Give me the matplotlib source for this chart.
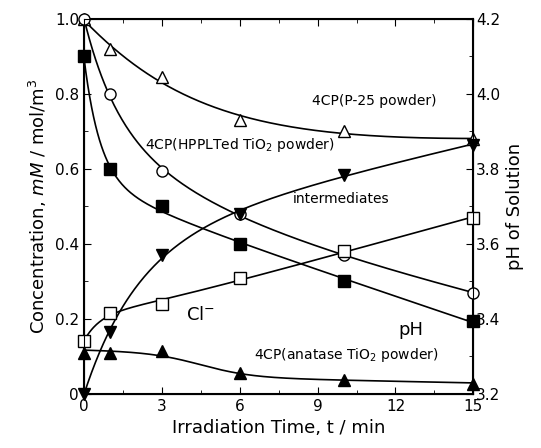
"""Photodegradation of 4CP: concentration and pH vs irradiation time."""

import numpy as np
import matplotlib
matplotlib.use("Agg")
import matplotlib.pyplot as plt
from matplotlib.ticker import MultipleLocator

time_min = [0, 1, 3, 6, 10, 15]
p25 = [1.0, 0.92, 0.845, 0.73, 0.70, 0.68]
hppl = [1.0, 0.80, 0.595, 0.48, 0.37, 0.27]
ph_conc = [0.90, 0.60, 0.50, 0.40, 0.30, 0.195]
intermediates = [0.0, 0.165, 0.37, 0.48, 0.585, 0.665]
chloride = [0.14, 0.215, 0.24, 0.31, 0.38, 0.47]
anatase = [0.11, 0.11, 0.115, 0.055, 0.037, 0.027]


def exp_basis(t, taus):
    t = np.asarray(t, float)
    cols = [np.ones_like(t), t] + [np.exp(-t / tau) for tau in taus]
    return np.column_stack(cols)


def guide(x, y, xs, taus=(1.2, 4.5)):
    # least squares guide curve, constant + linear + exponentials
    coef, *_ = np.linalg.lstsq(exp_basis(x, taus), np.asarray(y, float),
                               rcond=None)
    return exp_basis(xs, taus) @ coef


def guide_fast(x, y, xs):
    return guide(x, y, xs, taus=(0.6, 2.5))


def guide_slow(x, y, xs):
    return guide(x, y, xs, taus=(2.0, 5.0))


def anatase_guide(x, y, xs):
    # flat start then a soft step down
    B = lambda s: np.column_stack([np.ones_like(s), s,
                                   1 / (1 + np.exp(-(s - 4.5) / 1.0))])
    coef, *_ = np.linalg.lstsq(B(np.asarray(x, float)), np.asarray(y, float),
                               rcond=None)
    return B(np.asarray(xs, float)) @ coef


fig = plt.figure(figsize=(5.41, 4.48), dpi=100)
ax = fig.add_axes([0.155, 0.1205, 0.72, 0.8375])

series = [
    (p25, "^", "white", guide),
    (hppl, "o", "white", guide),
    (ph_conc, "s", "black", guide_fast),
    (intermediates, "v", "black", guide_slow),
    (chloride, "s", "white", guide_fast),
    (anatase, "^", "black", anatase_guide),
]
xs = np.linspace(0, 15, 400)
for vals, mk, fc, fit in series:
    ax.plot(xs, fit(time_min, vals, xs), color="black", lw=1.2)
    ax.plot(time_min, vals, ls="none", marker=mk, ms=8, mfc=fc,
            mec="black", mew=1.0, clip_on=False, zorder=5)

ax.set_xlim(0, 15)
ax.set_ylim(0, 1.0)
ax.xaxis.set_major_locator(MultipleLocator(3))
ax.xaxis.set_minor_locator(MultipleLocator(1.5))
ax.set_yticks([0, 0.2, 0.4, 0.6, 0.8, 1.0])
ax.set_yticklabels(["0", "0.2", "0.4", "0.6", "0.8", "1.0"])
ax.yaxis.set_minor_locator(MultipleLocator(0.1))
ax.tick_params(which="both", direction="in", top=True, labelsize=11)
ax.tick_params(which="major", length=5)
ax.tick_params(which="minor", length=3)
for sp in ax.spines.values():
    sp.set_linewidth(1.5)

ax.set_xlabel("Irradiation Time, t / min", fontsize=13)
ax.set_ylabel("Concentration, $\\mathit{mM}$ / mol/m$^3$", fontsize=13)

ax2 = ax.twinx()
ax2.set_ylim(3.2, 4.2)
ax2.yaxis.set_major_locator(MultipleLocator(0.2))
ax2.yaxis.set_minor_locator(MultipleLocator(0.1))
ax2.tick_params(which="both", direction="in", labelsize=11, pad=2)
ax2.tick_params(which="major", length=5)
ax2.tick_params(which="minor", length=3)
ax2.set_ylabel("pH of Solution", fontsize=13)

ax.text(11.2, 0.78, "4CP(P-25 powder)", fontsize=10, ha="center", va="center")
ax.text(2.35, 0.665, "4CP(HPPLTed TiO$_2$ powder)", fontsize=10, va="center")
ax.text(9.9, 0.52, "intermediates", fontsize=10, ha="center", va="center")
ax.text(4.5, 0.21, "Cl$^{-}$", fontsize=13, ha="center", va="center")
ax.text(12.6, 0.17, "pH", fontsize=13, ha="center", va="center")
ax.text(10.1, 0.105, "4CP(anatase TiO$_2$ powder)", fontsize=10,
        ha="center", va="center")

fig.savefig("out.png", dpi=100)
